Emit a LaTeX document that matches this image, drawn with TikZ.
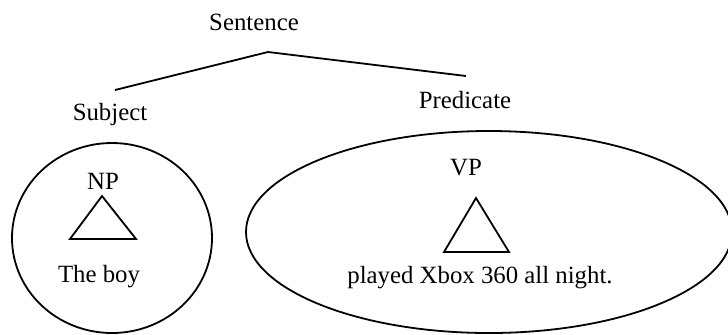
\documentclass[tikz,border=0pt]{standalone}
\usepackage{fontspec}
\setmainfont{Liberation Serif}
\usetikzlibrary{shapes.geometric}
\begin{document}
\begin{tikzpicture}[x=0.5pt, y=-0.5pt, line width=0.9pt,
  lbl/.style={font=\fontsize{12.4}{15}\selectfont, anchor=base, inner sep=0pt},
  region/.style={draw, ellipse, inner sep=0pt, line width=0.9pt},
  tri/.style={draw, line width=0.9pt, line join=miter}]
  \useasboundingbox (0,0) rectangle (728,334);
  \clip (0,0) rectangle (728,334);

  % labels of the tree
  \node[lbl] (sentence) at (254,30) {Sentence};
  \node[lbl] (subject)  at (110,120) {Subject};
  \node[lbl] (predicate) at (465,108) {Predicate};

  % branching line under "Sentence"
  \coordinate (apex)    at (268,52);
  \coordinate (subjtip) at (115,90);
  \coordinate (predtip) at (466,76);
  \draw (subjtip) -- (apex) -- (predtip);

  % subject region
  \node[region, minimum width=100pt, minimum height=95pt] (subjregion) at (112,238) {};
  \node[lbl] (np) at (103,189) {NP};
  \draw[tri] (102,196) -- (136,239) -- (70,239) -- cycle;
  \node[lbl] (theboy) at (99,282) {The boy};

  % predicate region
  \node[region, minimum width=243pt, minimum height=101pt] (predregion) at (489,232) {};
  \node[lbl] (vp) at (466,175) {VP};
  \draw[tri] (476,198) -- (509,252) -- (444,252) -- cycle;
  \node[lbl] (vpwords) at (480,283) {played Xbox 360 all night.};
\end{tikzpicture}
\end{document}
